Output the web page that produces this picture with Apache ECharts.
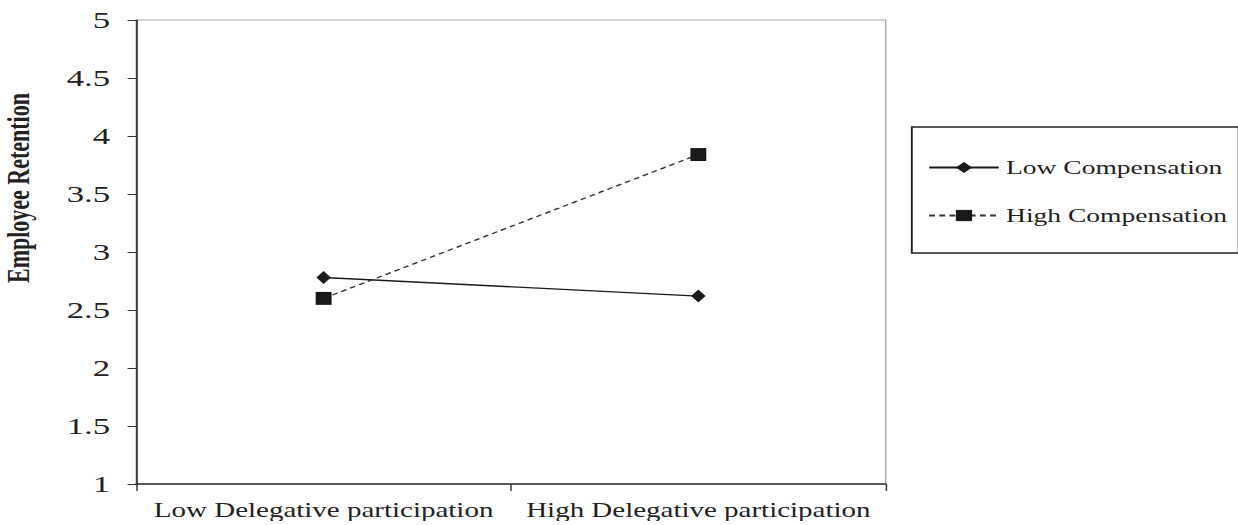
<!DOCTYPE html>
<html>
<head>
<meta charset="UTF-8">
<script src="https://cdn.jsdelivr.net/npm/echarts@6/dist/echarts.min.js"></script>
<style>
  body { margin: 0; background: #fff; overflow: hidden; }
  /* 原图是横向拉伸的扫描件：按窄宽度绘制，再横向放大 */
  #chart { width: 854px; height: 525px; transform: scaleX(1.4496); transform-origin: 0 0; }
</style>
</head>
<body>
<div id="chart"></div>
<script>
// 类别与数据
var categories = ['Low Delegative participation', 'High Delegative participation']
var seriesNames = ['Low Compensation', 'High Compensation']
var lowComp = [2.78, 2.62]
var highComp = [2.60, 3.84]
var yMin = 1
var yMax = 5
var yStep = 0.5

var serif = '"Liberation Serif", "DejaVu Serif", serif'
var chart = echarts.init(document.getElementById('chart'), null, { renderer: 'svg' })

chart.setOption({
  animation: false,
  grid: {
    left: 94, right: 243, top: 20, bottom: 41,
    containLabel: false,
    outerBoundsMode: 'none',
    show: true, borderColor: '#aaa', borderWidth: 1
  },
  legend: {
    orient: 'vertical',
    left: 629, top: 127,
    padding: [31, 8, 28, 11],
    itemGap: 29,
    itemWidth: 48, itemHeight: 14,
    borderColor: '#222', borderWidth: 1.3,
    textStyle: { fontFamily: serif, fontSize: 19, color: '#222' },
    data: seriesNames
  },
  xAxis: {
    type: 'category',
    data: categories,
    boundaryGap: true,
    axisLine: { lineStyle: { color: '#333', width: 1.5 } },
    axisTick: { show: true, length: 7, lineStyle: { color: '#333' } },
    axisLabel: { fontFamily: serif, fontSize: 20, color: '#222', margin: 16, interval: 0, hideOverlap: false }
  },
  yAxis: {
    type: 'value',
    min: yMin, max: yMax, interval: yStep,
    name: 'Employee Retention',
    nameLocation: 'middle',
    nameGap: 70,
    // 标题在原图中偏上，用左侧留白把它往上推
    nameTextStyle: { fontFamily: serif, fontSize: 22, fontWeight: 'bold', color: '#222', padding: [0, 0, 0, 128] },
    axisLine: { show: true, lineStyle: { color: '#333', width: 1.2 } },
    axisTick: { show: true, length: 6, lineStyle: { color: '#333' } },
    splitLine: { show: false },
    axisLabel: { fontFamily: serif, fontSize: 24, color: '#222', margin: 18 }
  },
  series: [
    {
      name: seriesNames[0],
      type: 'line',
      data: lowComp,
      symbol: 'diamond', symbolSize: [10, 13],
      itemStyle: { color: '#1a1a1a' },
      lineStyle: { color: '#1a1a1a', width: 1.3, type: 'solid' }
    },
    {
      name: seriesNames[1],
      type: 'line',
      data: highComp,
      symbol: 'rect', symbolSize: [11, 13],
      itemStyle: { color: '#1a1a1a' },
      lineStyle: { color: '#333', width: 1.3, type: [4, 3] }
    }
  ]
})
</script>
</body>
</html>
